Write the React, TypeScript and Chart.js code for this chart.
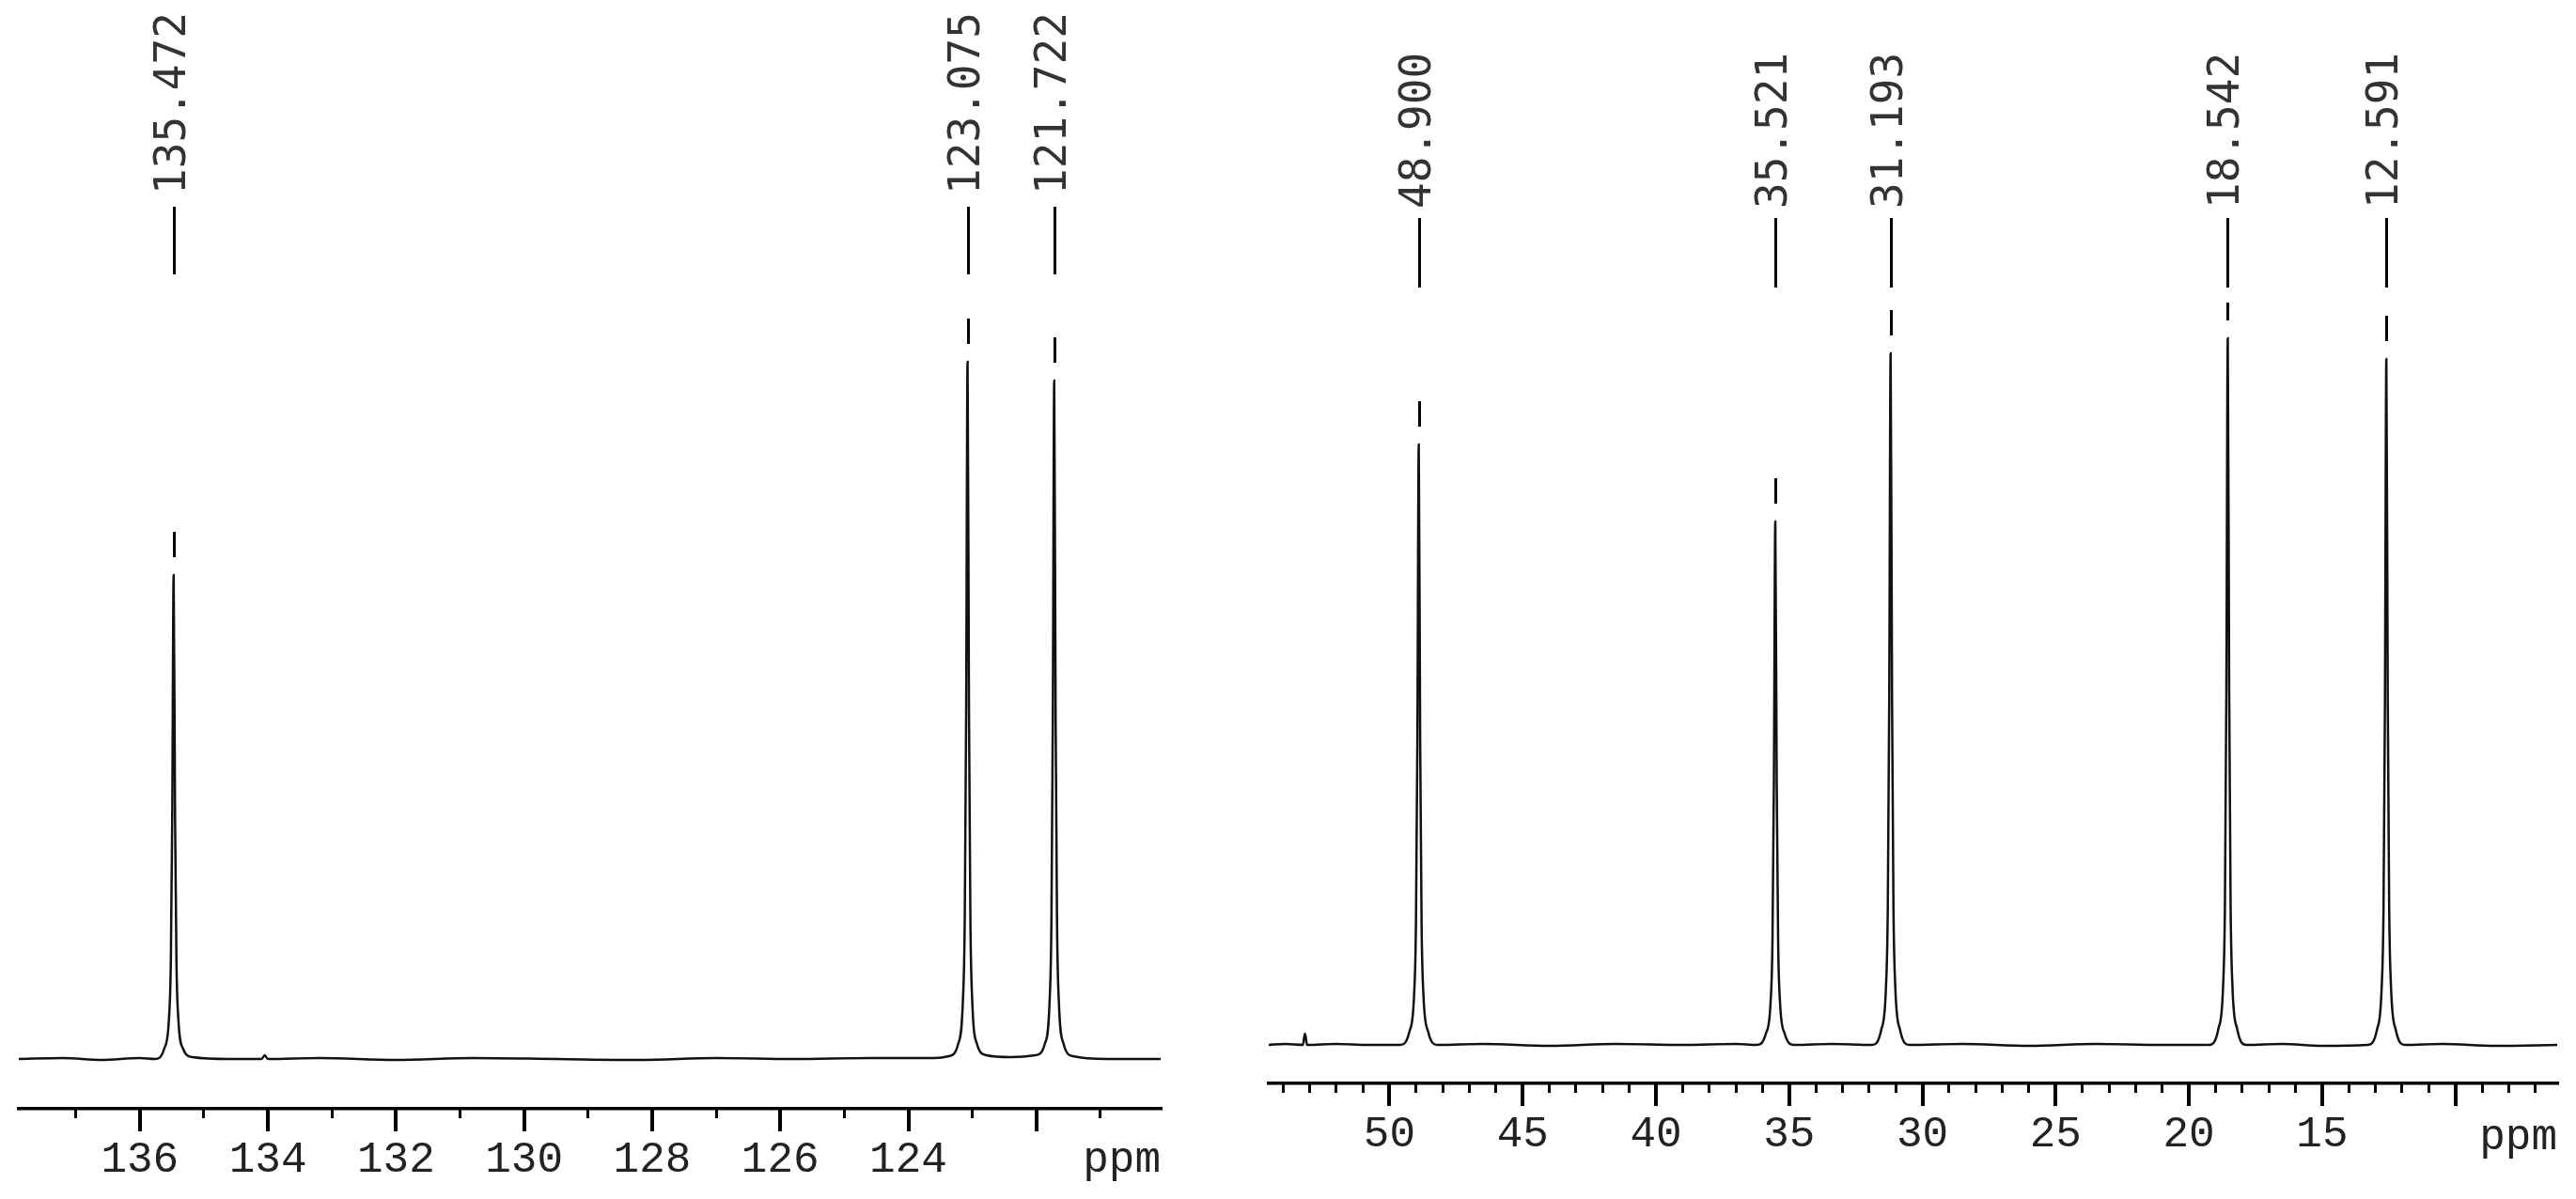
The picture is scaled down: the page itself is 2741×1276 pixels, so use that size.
import React, { useEffect, useRef } from "react";
import { Chart, registerables } from "chart.js";

Chart.register(...registerables);

// ---------------- LEFT PANEL DATA (aromatic region) ----------------
const leftRange = [137.89, 120.06];
const leftMajorTicks = [136, 134, 132, 130, 128, 126, 124, 122];
const leftMajorLabels = ["136", "134", "132", "130", "128", "126", "124", ""];
const leftMinorTicks = [121, 122, 123, 124, 125, 126, 127, 128, 129, 130, 131, 132, 133, 134, 135, 136, 137];
const leftPeakShifts = [135.472, 123.075, 121.722];
const leftPeakLabels = ["135.472", "123.075", "121.722"];
const leftPeakHeights = [51.5, 74.2, 72.2];
const leftIntensityRange = [-5.3, 112.7];
const leftSpectrum: [number, number][] = [
  [137.89, 0], [137.2, 0.1], [136.6, -0.1], [136.0, 0.1],
  [135.765, 0], [135.619, 1.1], [135.545, 4.3], [135.516, 10.3], [135.494, 25.8],
  [135.472, 51.5],
  [135.45, 25.8], [135.428, 10.3], [135.399, 4.3], [135.325, 1.1], [135.179, 0.2],
  [134.6, 0], [134.1, 0], [134.05, 0.4], [134.0, 0], [133.2, 0.1], [132.0, -0.1],
  [130.8, 0.1], [129.5, 0], [128.2, -0.1], [127.0, 0.1], [125.8, 0], [124.6, 0.1], [123.6, 0.1],
  [123.368, 0.3], [123.222, 1.6], [123.148, 6.2], [123.119, 14.8], [123.097, 37.1],
  [123.075, 74.2],
  [123.053, 37.1], [123.031, 14.8], [123.002, 6.2], [122.928, 1.6], [122.782, 0.4],
  [122.4, 0.2],
  [122.015, 0.4], [121.869, 1.6], [121.795, 6.0], [121.766, 14.4], [121.744, 36.1],
  [121.722, 72.2],
  [121.7, 36.1], [121.678, 14.4], [121.649, 6.0], [121.575, 1.6], [121.429, 0.3],
  [120.9, 0], [120.06, 0],
];

// ---------------- RIGHT PANEL DATA (aliphatic region) ----------------
const rightRange = [54.53, 6.18];
const rightMajorTicks = [50, 45, 40, 35, 30, 25, 20, 15, 10];
const rightMajorLabels = ["50", "45", "40", "35", "30", "25", "20", "15", ""];
const rightMinorTicks = [
  7, 8, 9, 10, 11, 12, 13, 14, 15, 16, 17, 18, 19, 20, 21, 22, 23, 24, 25, 26, 27, 28, 29, 30,
  31, 32, 33, 34, 35, 36, 37, 38, 39, 40, 41, 42, 43, 44, 45, 46, 47, 48, 49, 50, 51, 52, 53, 54,
];
const rightPeakShifts = [48.9, 35.521, 31.193, 18.542, 12.591];
const rightPeakLabels = ["48.900", "35.521", "31.193", "18.542", "12.591"];
const rightPeakHeights = [63.9, 55.7, 73.6, 75.2, 73.0];
const rightIntensityRange = [-4.1, 111.2];
const rightSpectrum: [number, number][] = [
  [54.53, 0], [53.9, 0.1], [53.25, 0], [53.17, 1.2], [53.09, 0], [52.0, 0.1], [50.8, 0],
  [49.605, 0], [49.253, 1.4], [49.076, 5.3], [49.006, 12.8], [48.953, 32.0],
  [48.9, 63.9],
  [48.847, 32.0], [48.794, 12.8], [48.724, 5.3], [48.547, 1.4], [48.195, 0],
  [46.5, 0.1], [44.0, -0.1], [41.5, 0.1], [39.0, 0], [37.0, 0.1],
  [36.226, 0], [35.874, 1.2], [35.697, 4.6], [35.627, 11.1], [35.574, 27.9],
  [35.521, 55.7],
  [35.468, 27.9], [35.415, 11.1], [35.345, 4.6], [35.168, 1.2], [34.816, 0],
  [33.4, 0.1],
  [31.898, 0], [31.546, 1.6], [31.369, 6.1], [31.299, 14.7], [31.246, 36.8],
  [31.193, 73.6],
  [31.14, 36.8], [31.087, 14.7], [31.017, 6.1], [30.84, 1.6], [30.488, 0],
  [28.5, 0.1], [26.0, -0.1], [23.5, 0.1], [21.0, 0],
  [19.247, 0], [18.895, 1.7], [18.718, 6.2], [18.648, 15.0], [18.595, 37.6],
  [18.542, 75.2],
  [18.489, 37.6], [18.436, 15.0], [18.366, 6.2], [18.189, 1.7], [17.837, 0],
  [16.5, 0.1], [15.0, -0.1],
  [13.296, 0], [12.944, 1.6], [12.767, 6.1], [12.697, 14.6], [12.644, 36.5],
  [12.591, 73.0],
  [12.538, 36.5], [12.485, 14.6], [12.415, 6.1], [12.238, 1.6], [11.886, 0],
  [10.5, 0.1], [8.5, -0.1], [6.18, 0],
];

const unitLabel = "ppm";

type PanelSpec = {
  range: number[];
  majorTicks: number[];
  majorLabels: string[];
  minorTicks: number[];
  peakShifts: number[];
  peakLabels: string[];
  peakHeights: number[];
  intensityRange: number[];
  spectrum: [number, number][];
  padLeft: number;
  padRight: number;
  axisHeight: number;
  textBottom: number;
  leaderTop: number;
  leaderBottom: number;
  labelBaseline: number;
};

const TICK_FONT = '"Liberation Mono", monospace';
const PEAK_FONT = '"DejaVu Sans Mono", monospace';

function tickAxis(p: PanelSpec, values: number[], length: number, width: number) {
  return {
    type: "linear",
    axis: "x",
    position: { y: p.intensityRange[0] },
    min: p.range[1],
    max: p.range[0],
    reverse: true,
    afterBuildTicks: (s: any) => {
      s.ticks = values.map((v) => ({ value: v }));
    },
    grid: {
      drawOnChartArea: false,
      drawTicks: true,
      tickLength: length,
      tickWidth: width,
      tickColor: "#000",
      lineWidth: width,
      color: "#000",
    },
    border: { display: false },
    ticks: { display: false },
  };
}

function buildChart(canvas: HTMLCanvasElement, p: PanelSpec) {
  const labelMap = new Map<number, string>();
  p.majorTicks.forEach((v, i) => labelMap.set(v, p.majorLabels[i]));

  const annotate = {
    id: "peakAnnotations",
    afterDraw(chart: any) {
      const ctx = chart.ctx as CanvasRenderingContext2D;
      const xs = chart.scales.x;
      const ys = chart.scales.y;
      ctx.save();
      // unit label
      ctx.font = `46px ${TICK_FONT}`;
      ctx.fillStyle = "#222";
      ctx.textAlign = "right";
      ctx.textBaseline = "alphabetic";
      ctx.fillText(unitLabel, xs.right, xs.top + p.labelBaseline);
      // peak pickers
      ctx.strokeStyle = "#000";
      ctx.lineWidth = 3;
      p.peakShifts.forEach((ppm, i) => {
        const x = Math.round(xs.getPixelForValue(ppm)) + 0.5;
        const top = ys.getPixelForValue(p.peakHeights[i]);
        ctx.beginPath();
        ctx.moveTo(x, p.leaderTop);
        ctx.lineTo(x, p.leaderBottom);
        ctx.stroke();
        const d1 = Math.max(top - 46, p.leaderBottom + 16);
        const d2 = top - 19;
        ctx.beginPath();
        ctx.moveTo(x, d1);
        ctx.lineTo(x, d2);
        ctx.stroke();
        ctx.save();
        ctx.translate(x, p.textBottom);
        ctx.rotate(-Math.PI / 2);
        ctx.font = `46px ${PEAK_FONT}`;
        ctx.fillStyle = "#333";
        ctx.textAlign = "left";
        ctx.textBaseline = "middle";
        ctx.fillText(p.peakLabels[i], 0, 0);
        ctx.restore();
      });
      ctx.restore();
    },
  };

  return new Chart(canvas, {
    type: "line",
    data: {
      datasets: [
        {
          data: p.spectrum.map(([x, y]) => ({ x, y })),
          xAxisID: "x",
          yAxisID: "y",
          borderColor: "#111",
          borderWidth: 2.5,
          pointRadius: 0,
          cubicInterpolationMode: "monotone",
          fill: false,
        } as any,
      ],
    },
    options: {
      animation: false,
      responsive: false,
      devicePixelRatio: 1,
      events: [],
      layout: { padding: { left: p.padLeft, right: p.padRight, top: 0, bottom: 0 } },
      plugins: { legend: { display: false }, tooltip: { enabled: false }, title: { display: false } },
      scales: {
        x: {
          type: "linear",
          axis: "x",
          position: "bottom",
          min: p.range[1],
          max: p.range[0],
          reverse: true,
          afterBuildTicks: (s: any) => {
            s.ticks = p.majorTicks.map((v) => ({ value: v }));
          },
          afterFit: (s: any) => {
            s.height = p.axisHeight;
          },
          grid: {
            drawOnChartArea: false,
            drawTicks: true,
            tickLength: 24,
            tickWidth: 4,
            tickColor: "#000",
            lineWidth: 4,
            color: "#000",
          },
          border: { display: true, width: 3.5, color: "#000" },
          ticks: {
            autoSkip: false,
            maxRotation: 0,
            minRotation: 0,
            padding: 8,
            color: "#222",
            font: { family: TICK_FONT, size: 46, lineHeight: 1 },
            callback: (v: any) => labelMap.get(Number(v)) ?? "",
          },
        },
        xMajor: tickAxis(p, p.majorTicks, 24, 4),
        xMinor: tickAxis(p, p.minorTicks, 10, 3),
        y: {
          type: "linear",
          display: false,
          min: p.intensityRange[0],
          max: p.intensityRange[1],
        },
      } as any,
    },
    plugins: [annotate],
  });
}

const leftPanel: PanelSpec = {
  range: leftRange,
  majorTicks: leftMajorTicks,
  majorLabels: leftMajorLabels,
  minorTicks: leftMinorTicks,
  peakShifts: leftPeakShifts,
  peakLabels: leftPeakLabels,
  peakHeights: leftPeakHeights,
  intensityRange: leftIntensityRange,
  spectrum: leftSpectrum,
  padLeft: 20,
  padRight: 65,
  axisHeight: 96,
  textBottom: 207,
  leaderTop: 220,
  leaderBottom: 292,
  labelBaseline: 67,
};

const rightPanel: PanelSpec = {
  range: rightRange,
  majorTicks: rightMajorTicks,
  majorLabels: rightMajorLabels,
  minorTicks: rightMinorTicks,
  peakShifts: rightPeakShifts,
  peakLabels: rightPeakLabels,
  peakHeights: rightPeakHeights,
  intensityRange: rightIntensityRange,
  spectrum: rightSpectrum,
  padLeft: 50,
  padRight: 20,
  axisHeight: 123,
  textBottom: 222,
  leaderTop: 232,
  leaderBottom: 306,
  labelBaseline: 70,
};

export default function App() {
  const leftRef = useRef<HTMLCanvasElement | null>(null);
  const rightRef = useRef<HTMLCanvasElement | null>(null);

  useEffect(() => {
    const charts: Chart[] = [];
    if (leftRef.current) charts.push(buildChart(leftRef.current, leftPanel));
    if (rightRef.current) charts.push(buildChart(rightRef.current, rightPanel));
    return () => charts.forEach((c) => c.destroy());
  }, []);

  return (
    <div
      style={{
        position: "fixed",
        left: 0,
        top: 0,
        width: 2741,
        height: 1276,
        background: "#fff",
        overflow: "hidden",
      }}
    >
      <canvas
        ref={leftRef}
        width={1300}
        height={1276}
        style={{ position: "absolute", left: 0, top: 0, width: 1300, height: 1276 }}
      />
      <canvas
        ref={rightRef}
        width={1441}
        height={1276}
        style={{ position: "absolute", left: 1300, top: 0, width: 1441, height: 1276 }}
      />
    </div>
  );
}
